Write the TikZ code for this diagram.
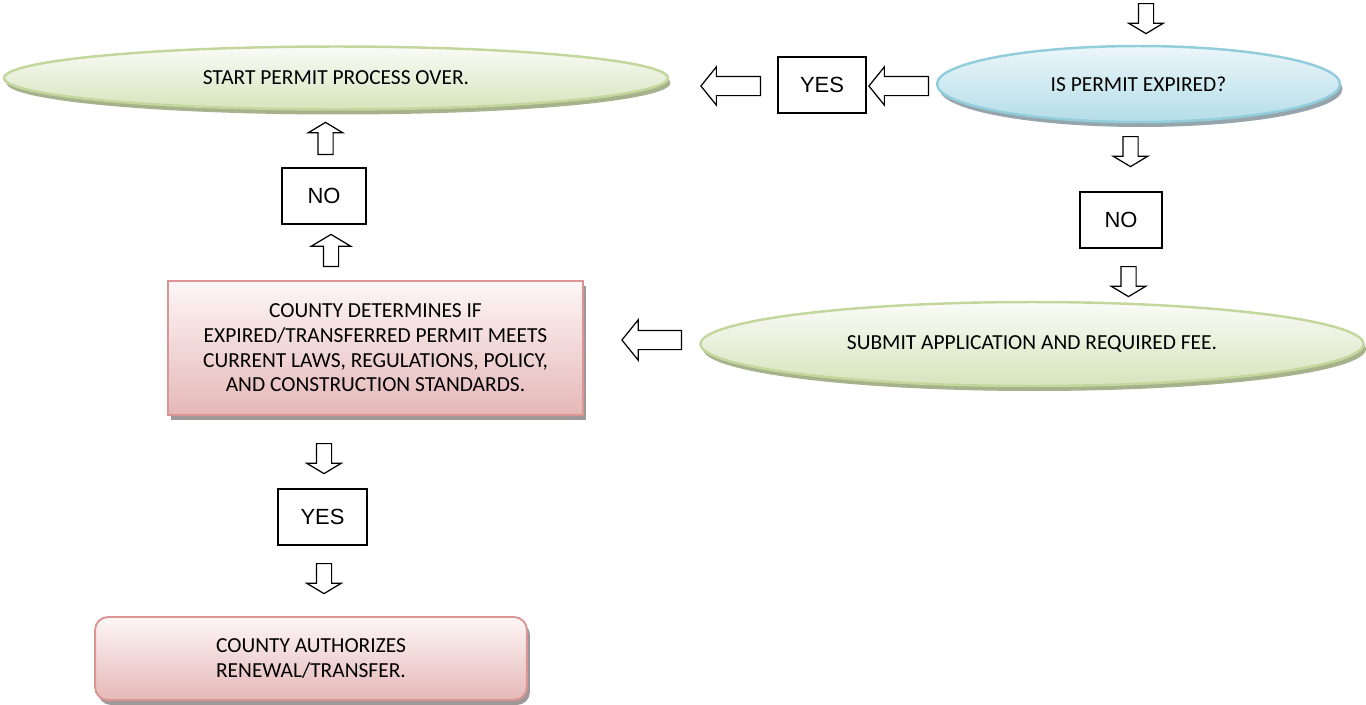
\documentclass[tikz,border=0pt]{standalone}
\usepackage{fontspec}
\setmainfont{Carlito}
\newfontfamily\answerfont{Liberation Sans}
\usetikzlibrary{shapes.geometric,shapes.arrows,shadows}
\definecolor{greenedge}{RGB}{195,214,155}
\definecolor{greentop}{RGB}{250,251,247}
\definecolor{greenbottom}{RGB}{214,228,188}
\definecolor{greenshade}{RGB}{165,178,140}
\definecolor{blueedge}{RGB}{146,205,220}
\definecolor{bluetop}{RGB}{236,246,250}
\definecolor{bluebottom}{RGB}{180,221,232}
\definecolor{blueshade}{RGB}{150,165,172}
\definecolor{pinkedge}{RGB}{217,150,148}
\definecolor{pinktop}{RGB}{253,246,246}
\definecolor{pinkbottom}{RGB}{229,184,183}
\definecolor{pinkshade}{RGB}{160,152,152}

\begin{document}
\begin{tikzpicture}[x=0.02cm,y=-0.02cm,
  every node/.style={font=\fontsize{12.2}{14}\selectfont},
  oval/.style={ellipse,line width=1.4pt,inner sep=0pt,align=center},
  greenoval/.style={oval,draw=greenedge,top color=greentop,bottom color=greenbottom,
    drop shadow={shadow xshift=0.05cm,shadow yshift=-0.1cm,fill=greenshade,opacity=1}},
  blueoval/.style={oval,draw=blueedge,top color=bluetop,bottom color=bluebottom,
    drop shadow={shadow xshift=0.05cm,shadow yshift=-0.1cm,fill=blueshade,opacity=1}},
  stepbox/.style={rectangle,draw=pinkedge,line width=1.1pt,top color=pinktop,bottom color=pinkbottom,
    align=center,inner sep=0pt,
    drop shadow={shadow xshift=0.06cm,shadow yshift=-0.1cm,fill=pinkshade,opacity=1}},
  answer/.style={draw,line width=0.8pt,fill=white,minimum width=1.72cm,minimum height=1.12cm,
    inner sep=0pt,font=\answerfont\fontsize{12.5}{14}\selectfont},
  vblock/.style={single arrow,draw,line width=0.7pt,fill=white,inner xsep=0pt,inner ysep=0.14cm,
    text height=0pt,text depth=0pt,single arrow head extend=0.19cm,single arrow tip angle=118,
    minimum height=0.6cm,anchor=tail},
  hblock/.style={single arrow,draw,line width=0.7pt,fill=white,inner xsep=0pt,inner ysep=0.18cm,
    text height=0pt,text depth=0pt,single arrow head extend=0.19cm,single arrow tip angle=102,
    minimum height=1.19cm,anchor=tail,rotate=180}
]
\useasboundingbox (0,0) rectangle (1366,704);

% shapes
\node[blueoval,minimum width=8.06cm,minimum height=1.52cm] (expired) at (1138.5,84) {IS PERMIT EXPIRED?};
\node[greenoval,minimum width=13.28cm,minimum height=1.26cm] (restart) at (336,78) {START PERMIT PROCESS OVER.};
\node[greenoval,minimum width=13.26cm,minimum height=1.68cm] (submit) at (1032,344) {SUBMIT APPLICATION AND REQUIRED FEE.};
\node[stepbox,minimum width=8.3cm,minimum height=2.68cm] (review) at (375.5,348)
  {COUNTY DETERMINES IF\\EXPIRED/TRANSFERRED PERMIT MEETS\\CURRENT LAWS, REGULATIONS, POLICY,\\AND CONSTRUCTION STANDARDS.};
\node[stepbox,rounded corners=0.26cm,minimum width=8.64cm,minimum height=1.66cm] (authorize) at (311,658.5)
  {COUNTY AUTHORIZES\\RENEWAL/TRANSFER.};

% answers
\node[answer,minimum width=1.76cm] (yesexp) at (822,85) {YES};
\node[answer,minimum width=1.64cm] (noexp) at (1121,220) {NO};
\node[answer,minimum width=1.68cm] (noreview) at (324,196) {NO};
\node[answer,minimum width=1.78cm] (yesreview) at (322.5,517) {YES};

% block arrows
\node[vblock,rotate=-90] (in) at (1146,3) {};
\node[hblock] (expyes) at (929,86) {};
\node[hblock] (yesrestart) at (761,86) {};
\node[vblock,rotate=-90] (expno) at (1130.5,136) {};
\node[vblock,rotate=-90] (nosubmit) at (1128.5,266) {};
\node[hblock,single arrow head extend=0.21cm] (submitreview) at (682,340) {};
\node[vblock,rotate=90,minimum height=0.64cm,single arrow head extend=0.24cm] (reviewno) at (331,267) {};
\node[vblock,rotate=90,minimum height=0.64cm] (norestart) at (325.5,155) {};
\node[vblock,rotate=-90] (reviewyes) at (324,443) {};
\node[vblock,rotate=-90] (yesauthorize) at (324,563) {};
\end{tikzpicture}
\end{document}
